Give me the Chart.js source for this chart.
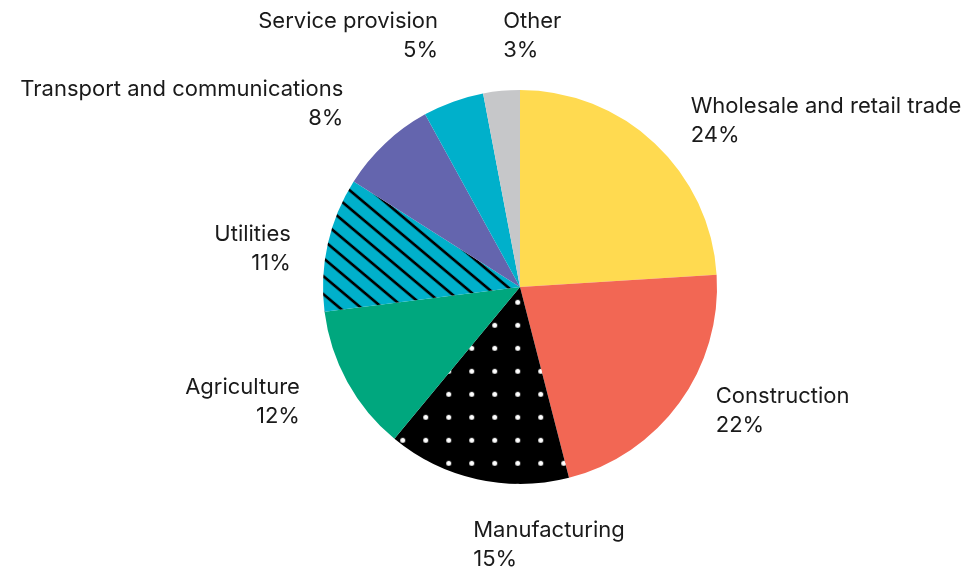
<!DOCTYPE html>
<html>
<head>
<meta charset="utf-8">
<script src="https://cdn.jsdelivr.net/npm/chart.js@4.4.1/dist/chart.umd.min.js"></script>
<style>
  html, body { margin: 0; padding: 0; background: #ffffff; }
  #wrap { width: 968px; height: 570px; position: relative; }
</style>
</head>
<body>
<div id="wrap"><canvas id="sectors" width="968" height="570"></canvas></div>
<script>
// Employment by sector, shares of total (%)
const categories = [
    'Wholesale and retail trade',
    'Construction',
    'Manufacturing',
    'Agriculture',
    'Utilities',
    'Transport and communications',
    'Service provision',
    'Other'
];
const shares = [24, 22, 15, 12, 11, 8, 5, 3];
const shareLabels = shares.map(v => v + '%');

// label nudges (px) from the default anchor just outside each slice
const labelNudge = [
    [5, 10], [0, -18], [6, 22], [-8, -2], [7, 15], [-11, -7], [0, -23], [6, -10]
];

const FONT = '22px Inter';
const LINE_H = 29;

// white dots on black
function dotPattern() {
    const c = document.createElement('canvas');
    c.width = 23; c.height = 23;
    const g = c.getContext('2d');
    g.fillStyle = '#000000';
    g.fillRect(0, 0, 23, 23);
    g.fillStyle = '#ffffff';
    g.beginPath();
    g.arc(11.5, 11.5, 2.5, 0, Math.PI * 2);
    g.fill();
    const p = g.createPattern(c, 'repeat');
    p.setTransform(new DOMMatrix([1, 0, 0, 1, 0.2, -8.2]));
    return p;
}

// black diagonal hatching on cyan
function stripePattern() {
    const c = document.createElement('canvas');
    c.width = 18; c.height = 18;
    const g = c.getContext('2d');
    g.fillStyle = '#00b0cb';
    g.fillRect(0, 0, 18, 18);
    g.fillStyle = '#000000';
    g.fillRect(0, 2.8, 18, 3.5);
    const p = g.createPattern(c, 'repeat');
    p.setTransform(new DOMMatrix([1, 0.84, 0, 1, 0, 0]));
    return p;
}

const sliceColors = [
    '#ffda50',
    '#f26754',
    dotPattern(),
    '#00a77e',
    stripePattern(),
    '#6465ae',
    '#00b0cb',
    '#c6c7c9'
];

const outsideLabels = {
    id: 'outsideLabels',
    afterDatasetsDraw(chart) {
        const ctx = chart.ctx;
        const arcs = chart.getDatasetMeta(0).data;
        ctx.save();
        ctx.font = FONT;
        ctx.fillStyle = '#1a1a1a';
        ctx.textBaseline = 'middle';
        arcs.forEach((arc, i) => {
            const mid = (arc.startAngle + arc.endAngle) / 2;
            const r = arc.outerRadius + 45;
            const x = arc.x + Math.cos(mid) * r + labelNudge[i][0];
            const y = arc.y + Math.sin(mid) * r + labelNudge[i][1];
            ctx.textAlign = Math.cos(mid) > -0.3 ? 'left' : 'right';
            ctx.fillText(categories[i], x, y - LINE_H / 2);
            ctx.fillText(shareLabels[i], x, y + LINE_H / 2);
        });
        ctx.restore();
    }
};

new Chart(document.getElementById('sectors'), {
    type: 'pie',
    data: {
        labels: categories,
        datasets: [{
            data: shares,
            backgroundColor: sliceColors,
            borderWidth: 0
        }]
    },
    options: {
        responsive: false,
        animation: false,
        events: [],
        layout: { padding: { left: 200, right: 128, top: 90, bottom: 86 } },
        plugins: {
            legend: { display: false },
            tooltip: { enabled: false }
        }
    },
    plugins: [outsideLabels]
});
</script>
</body>
</html>
